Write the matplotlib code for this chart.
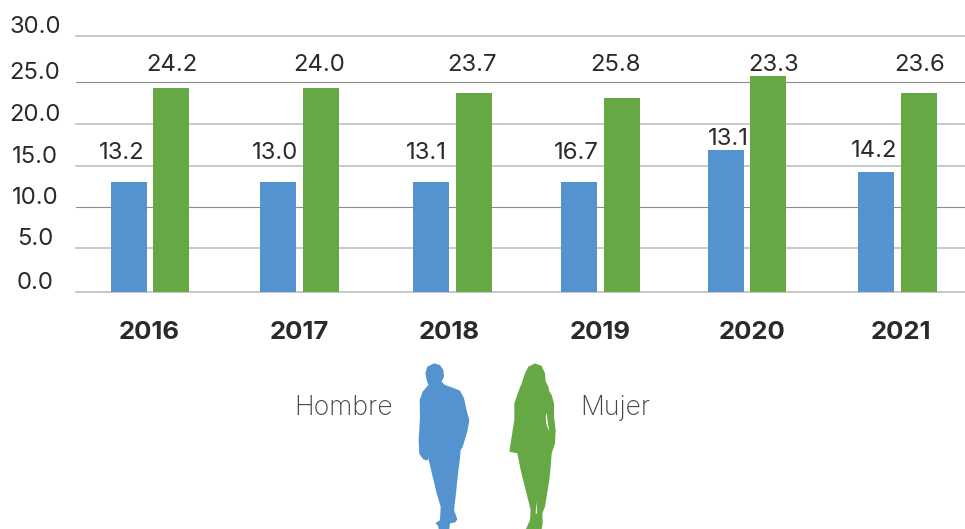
import matplotlib
matplotlib.use("Agg")
import matplotlib.pyplot as plt
import matplotlib.transforms as mtrans
from matplotlib.patches import Polygon
import numpy as np

# datos
years = ["2016", "2017", "2018", "2019", "2020", "2021"]
hombre_bars = [12.9, 12.9, 12.9, 12.9, 16.6, 14.0]
mujer_bars = [23.9, 23.9, 23.3, 22.7, 25.3, 23.3]
# las etiquetas del original no coinciden con la altura de las barras
hombre_labels = ["13.2", "13.0", "13.1", "16.7", "13.1", "14.2"]
mujer_labels = ["24.2", "24.0", "23.7", "25.8", "23.3", "23.6"]
y_labels = ["0.0", "5.0", "10.0", "15.0", "20.0", "25.0", "30.0"]
y_grid = [0, 5.15, 9.9, 14.74, 19.65, 24.6, 30]

# ajustes de maquetacion, el original no esta espaciado de forma regular
W, H = 965, 529
STEP = 149.5  # px entre grupos
group_shift = np.array([0, 0, 3.5, 2, -1, 0]) / STEP
year_shift = np.array([-1, -0.5, 0, 1.5, 4, 3.5]) / STEP
hombre_label_dx = np.array([-28, -24.5, -23, -22.5, -20, -23.5]) / STEP
mujer_label_dx = np.array([21.5, 20, 23, 17, 26, 22.5]) / STEP
hombre_label_y = [16.26, 16.26, 16.26, 16.26, 17.9, 16.5]
mujer_label_y = 26.55
grid_colors = ["#bdbdbd", "#c6c6c6", "#8c8c8c", "#c0c0c0", "#c6c6c6", "#8c8c8c", "#bdbdbd"]
grid_widths = [1.2, 1.3, 0.8, 1.2, 1.3, 0.8, 1.2]

BLUE = "#5593d0"
GREEN = "#65a844"
TEXT = "#2b2a29"

plt.rcParams["font.family"] = ["Inter", "DejaVu Sans"]

fig = plt.figure(figsize=(W / 100, H / 100), dpi=100)
ax = fig.add_axes([76 / W, 1 - 291.7 / H, (W - 76) / W, (291.7 - 35.7) / H])

x = np.arange(len(years))
ax.bar(x + group_shift - 21.5 / STEP, hombre_bars, 36 / STEP, color=BLUE, zorder=3)
ax.bar(x + group_shift + 21 / STEP, mujer_bars, 36 / STEP, color=GREEN, zorder=3)

for g, c, w in zip(y_grid, grid_colors, grid_widths):
    ax.axhline(g, color=c, lw=w, zorder=1, clip_on=False)

for i in x:
    ax.text(i + hombre_label_dx[i], hombre_label_y[i], hombre_labels[i], ha="center", va="center",
            fontsize=17.2, color=TEXT, zorder=4)
    ax.text(i + mujer_label_dx[i], mujer_label_y, mujer_labels[i], ha="center", va="center",
            fontsize=17.2, color=TEXT, zorder=4)

ax.set_xlim((76 - 150) / STEP, (W - 150) / STEP)
ax.set_ylim(0, 30)
ax.set_yticks(y_grid)
ax.set_yticklabels(y_labels, fontsize=17.2, color=TEXT, ha="center")
ax.set_xticks(x + year_shift)
ax.set_xticklabels(years, fontsize=18.5, fontweight="bold", color=TEXT)
ax.tick_params(axis="y", length=0, pad=29.5)
ax.tick_params(axis="x", length=0, pad=21)
for s in ax.spines.values():
    s.set_visible(False)

# los numeros del eje quedan por encima de su linea
up = mtrans.ScaledTranslation(0, 11.5 / 100, fig.dpi_scale_trans)
for lab in ax.get_yticklabels():
    lab.set_transform(lab.get_transform() + up)

# siluetas, contorno calcado del original
man = [(462, 40), (480, 45), (490, 60), (492, 80), (485, 95), (495, 105), (515, 112), (540, 122),
       (552, 145), (562, 190), (568, 210), (562, 245), (548, 290), (542, 300), (540, 325), (534, 370),
       (528, 430), (522, 480), (532, 508), (526, 517), (510, 520), (508, 537), (476, 537), (474, 527),
       (466, 520), (480, 510), (482, 470), (470, 430), (458, 380), (445, 325), (442, 332), (430, 328),
       (418, 312), (416, 270), (420, 200), (419, 150), (428, 125), (445, 105), (440, 90), (436, 70),
       (442, 50)]
woman = [(765, 40), (785, 48), (795, 70), (797, 95), (805, 110), (808, 125), (815, 135), (822, 160),
         (822, 200), (827, 240), (825, 280), (815, 310), (812, 350), (808, 390), (803, 420), (795, 470),
         (787, 490), (788, 520), (785, 537), (738, 537), (750, 510), (752, 480), (742, 440), (732, 400),
         (722, 360), (712, 310), (688, 305), (695, 260), (703, 210), (703, 160), (715, 125), (725, 100),
         (735, 70), (745, 50)]
arm_gap = [(800, 188), (803, 215), (808, 246), (799, 222), (797, 200)]
leg_gap = [(769, 455), (772, 490), (767, 490)]

overlay = fig.add_axes([0, 0, 1, 1], facecolor="none")
overlay.set_xlim(0, W)
overlay.set_ylim(H, 0)
overlay.axis("off")


def to_px(points):
    return [(280 + a / 3, 350 + b / 3) for a, b in points]


overlay.add_patch(Polygon(to_px(man), closed=True, color=BLUE, lw=0))
overlay.add_patch(Polygon(to_px(woman), closed=True, color=GREEN, lw=0))
overlay.add_patch(Polygon(to_px(arm_gap), closed=True, color="white", lw=0))
overlay.add_patch(Polygon(to_px(leg_gap), closed=True, color="white", lw=0))

overlay.text(344, 408, "Hombre", ha="center", va="center", fontsize=19.2, fontweight="light", color="#444444")
overlay.text(615, 408, "Mujer", ha="center", va="center", fontsize=19.2, fontweight="light", color="#444444")

fig.savefig("out.png", dpi=100)
